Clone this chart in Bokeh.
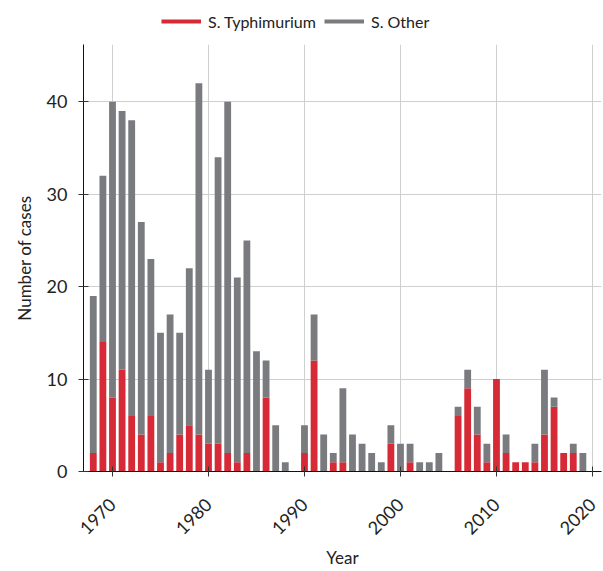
import math
from bokeh.plotting import figure
from bokeh.layouts import column
from bokeh.models import ColumnDataSource, Range1d, Legend, LegendItem, FixedTicker
from bokeh.embed import file_html
from bokeh.resources import INLINE

years = [1968, 1969, 1970, 1971, 1972, 1973, 1974, 1975, 1976, 1977,
         1978, 1979, 1980, 1981, 1982, 1983, 1984, 1985, 1986, 1987,
         1988, 1989, 1990, 1991, 1992, 1993, 1994, 1995, 1996, 1997,
         1998, 1999, 2000, 2001, 2002, 2003, 2004, 2005, 2006, 2007,
         2008, 2009, 2010, 2011, 2012, 2013, 2014, 2015, 2016, 2017,
         2018, 2019]
typhimurium = [2, 14, 8, 11, 6, 4, 6, 1, 2, 4,
               5, 4, 3, 3, 2, 1, 2, 0, 8, 0,
               0, 0, 2, 12, 0, 1, 1, 0, 0, 0,
               0, 3, 0, 1, 0, 0, 0, 0, 6, 9,
               4, 1, 10, 2, 1, 1, 1, 4, 7, 2,
               2, 0]
total = [19, 32, 40, 39, 38, 27, 23, 15, 17, 15,
         22, 42, 11, 34, 40, 21, 25, 13, 12, 5,
         1, 0, 5, 17, 4, 2, 9, 4, 3, 2,
         1, 5, 3, 3, 1, 1, 2, 0, 7, 11,
         7, 3, 10, 4, 1, 1, 3, 11, 8, 2,
         3, 2]
other = [t - r for t, r in zip(total, typhimurium)]
x_ticks = [1970, 1980, 1990, 2000, 2010, 2020]
y_ticks = [0, 10, 20, 30, 40]
series_names = ["S. Typhimurium", "S. Other"]

RED = "#d62a36"
GRAY = "#7a7b7f"
FONT = "Lato"
NAN = float("nan")

src = ColumnDataSource(dict(year=years, typh=typhimurium, other=other))

# ---- legend strip (separate small figure on top) ----
top = figure(width=603, height=36, output_backend="svg", toolbar_location=None,
             x_range=Range1d(0, 603), y_range=Range1d(0, 36),
             x_axis_type=None, y_axis_type=None, min_border=0)
top.outline_line_color = None
top.grid.visible = False
r1 = top.line(x=[NAN], y=[NAN], line_color=RED, line_width=4)
r2 = top.line(x=[NAN], y=[NAN], line_color=GRAY, line_width=4)
legend = Legend(items=[LegendItem(label=series_names[0], renderers=[r1]),
                       LegendItem(label=series_names[1], renderers=[r2])],
                orientation="horizontal", location=(78, 5),
                padding=0, margin=0, spacing=8, glyph_width=40,
                label_standoff=7, border_line_color=None,
                background_fill_alpha=0,
                label_text_font=FONT, label_text_font_size="16px",
                label_text_color="#222222")
top.add_layout(legend, "center")

# ---- main chart ----
p = figure(width=603, height=535, output_backend="svg", toolbar_location=None,
           x_range=Range1d(1966.98, 2020.94), y_range=Range1d(0, 46.2),
           min_border_left=83, min_border_right=2, min_border_top=8,
           min_border_bottom=96)
p.outline_line_color = None

p.vbar_stack(["typh", "other"], x="year", width=0.71, source=src,
             color=[RED, GRAY], line_color=None)

for ax in (p.xaxis, p.yaxis):
    ax.axis_line_color = "#111111"
    ax.major_tick_line_color = "#333333"
    ax.major_tick_in = 5
    ax.major_tick_out = 5
    ax.minor_tick_line_color = None
    ax.major_label_text_font = FONT
    ax.major_label_text_font_size = "18px"
    ax.major_label_text_color = "#222222"
    ax.major_label_text_line_height = 1.0
    ax.axis_label_text_font = FONT
    ax.axis_label_text_font_size = "17px"
    ax.axis_label_text_font_style = "normal"
    ax.axis_label_text_color = "#222222"
    ax.axis_label_text_line_height = 1.0

p.xaxis.ticker = FixedTicker(ticks=x_ticks)
p.yaxis.ticker = FixedTicker(ticks=y_ticks)
p.xaxis.major_label_orientation = math.pi / 4
p.xaxis.axis_label = "Year"
p.yaxis.axis_label = "Number of cases"
p.yaxis.major_label_standoff = 11
p.xaxis.major_label_standoff = 25
p.yaxis.axis_label_standoff = 9
p.xaxis.axis_label_standoff = 4

p.xgrid.grid_line_color = "#cfcfcf"
p.ygrid.grid_line_color = "#cfcfcf"
p.xgrid.ticker = FixedTicker(ticks=x_ticks)
p.ygrid.ticker = FixedTicker(ticks=y_ticks)

layout = column(top, p, spacing=0)
open("out.html", "w").write(file_html(layout, INLINE))
